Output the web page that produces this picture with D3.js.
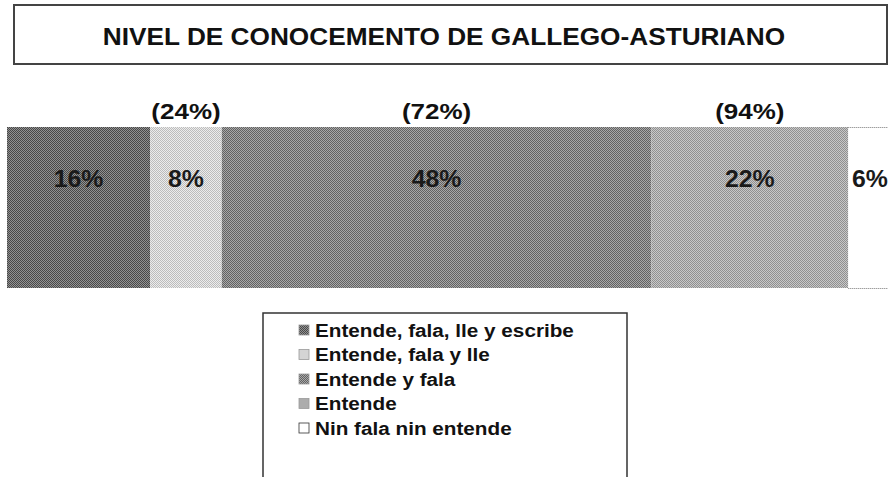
<!DOCTYPE html>
<html>
<head>
<meta charset="utf-8">
<script src="https://cdn.jsdelivr.net/npm/d3@7"></script>
<style>
  body { margin: 0; background: #fff; }
  svg { display: block; font-family: "Liberation Sans", Arial, sans-serif; }
</style>
</head>
<body>
<div id="chart"></div>
<script>
// categories and values
var categories = [
    "Entende, fala, lle y escribe",
    "Entende, fala y lle",
    "Entende y fala",
    "Entende",
    "Nin fala nin entende"
];
var values = [16, 8, 48, 22, 6];
var cumulativeLabels = ["", "(24%)", "(72%)", "(94%)", ""];
// halftone look: a base grey plus a darker dot grey per segment
var colors = ["#929292", "#ececec", "#a8a8a8", "#c8c8c8", "#ffffff"];
var dotColors = ["#484848", "#bcbcbc", "#626262", "#909090", "#ffffff"];

var title = "NIVEL DE CONOCEMENTO DE GALLEGO-ASTURIANO";

var width = 888;
var height = 477;

var svg = d3.select("#chart").append("svg")
    .attr("width", width)
    .attr("height", height);

// the scan is stretched sideways, so texts get widened to match
function stretch(sel, factor) {
    sel.each(function() {
        var len = this.getComputedTextLength();
        d3.select(this)
            .attr("textLength", len * factor)
            .attr("lengthAdjust", "spacingAndGlyphs");
    });
}

var defs = svg.append("defs");
colors.forEach(function(c, i) {
    var p = defs.append("pattern")
        .attr("id", "tone" + i)
        .attr("patternUnits", "userSpaceOnUse")
        .attr("width", 2)
        .attr("height", 2);
    p.append("rect").attr("width", 2).attr("height", 2).attr("fill", c);
    p.append("rect").attr("width", 1).attr("height", 1).attr("fill", dotColors[i]);
    p.append("rect").attr("x", 1).attr("y", 1).attr("width", 1).attr("height", 1)
        .attr("fill", dotColors[i]);
});

// title box
svg.append("rect")
    .attr("x", 14)
    .attr("y", 5)
    .attr("width", 873)
    .attr("height", 59)
    .attr("fill", "none")
    .attr("stroke", "#444")
    .attr("stroke-width", 2);

svg.append("text")
    .attr("x", 444)
    .attr("y", 45)
    .attr("text-anchor", "middle")
    .style("font-size", "23px")
    .style("font-weight", "bold")
    .attr("fill", "#111")
    .text(title)
    .call(stretch, 1.14);

// stacked bar
var stacked = [];
var acc = 0;
values.forEach(function(v, i) {
    stacked.push({ start: acc, end: acc + v, value: v, i: i });
    acc += v;
});

var x = d3.scaleLinear()
    .domain([0, 100])
    .range([7, 902]);

var barTop = 127;
var barHeight = 161;

var segs = svg.append("g");

segs.selectAll("rect")
    .data(stacked)
    .enter()
    .append("rect")
    .attr("x", function(d) { return x(d.start); })
    .attr("y", barTop)
    .attr("width", function(d) { return x(d.end) - x(d.start); })
    .attr("height", barHeight)
    .attr("fill", function(d) { return "url(#tone" + d.i + ")"; });

// dotted edge of the white segment
var last = stacked[stacked.length - 1];
[barTop, barTop + barHeight].forEach(function(yy) {
    svg.append("line")
        .attr("x1", x(last.start))
        .attr("x2", x(last.end))
        .attr("y1", yy + 0.5)
        .attr("y2", yy + 0.5)
        .attr("stroke", "#777")
        .attr("stroke-dasharray", "1,1");
});

// keep a label inside the page
function labelX(d) {
    return Math.min(x((d.start + d.end) / 2), width - 18);
}

// value labels
segs.selectAll("text.val")
    .data(stacked)
    .enter()
    .append("text")
    .attr("class", "val")
    .attr("x", labelX)
    .attr("y", 187)
    .attr("text-anchor", "middle")
    .style("font-size", "23px")
    .style("font-weight", "bold")
    .attr("fill", "#1a1a1a")
    .text(function(d) { return d.value + "%"; })
    .call(stretch, 1.08);

// cumulative labels above
segs.selectAll("text.cum")
    .data(stacked.filter(function(d) { return cumulativeLabels[d.i] !== ""; }))
    .enter()
    .append("text")
    .attr("class", "cum")
    .attr("x", labelX)
    .attr("y", 119)
    .attr("text-anchor", "middle")
    .style("font-size", "22px")
    .style("font-weight", "bold")
    .attr("fill", "#111")
    .text(function(d) { return cumulativeLabels[d.i]; })
    .call(stretch, 1.18);

// legend
var legend = svg.append("g");

legend.append("path")
    .attr("d", "M263,478 V313 H627 V478")
    .attr("fill", "none")
    .attr("stroke", "#333")
    .attr("stroke-width", 1.5);

var rowY = d3.scaleLinear()
    .domain([0, categories.length - 1])
    .range([330, 428]);

var rows = legend.selectAll("g.row")
    .data(categories)
    .enter()
    .append("g")
    .attr("class", "row")
    .attr("transform", function(d, i) { return "translate(0," + rowY(i) + ")"; });

rows.append("rect")
    .attr("x", 299)
    .attr("y", -5)
    .attr("width", 10)
    .attr("height", 10)
    .attr("fill", function(d, i) { return "url(#tone" + i + ")"; })
    .attr("stroke", function(d, i) { return i === 4 ? "#333" : "#999"; })
    .attr("stroke-width", 0.8);

rows.append("text")
    .attr("x", 315)
    .attr("y", 6.5)
    .style("font-size", "18px")
    .style("font-weight", "bold")
    .attr("fill", "#111")
    .text(function(d) { return d; })
    .call(stretch, 1.15);
</script>
</body>
</html>
